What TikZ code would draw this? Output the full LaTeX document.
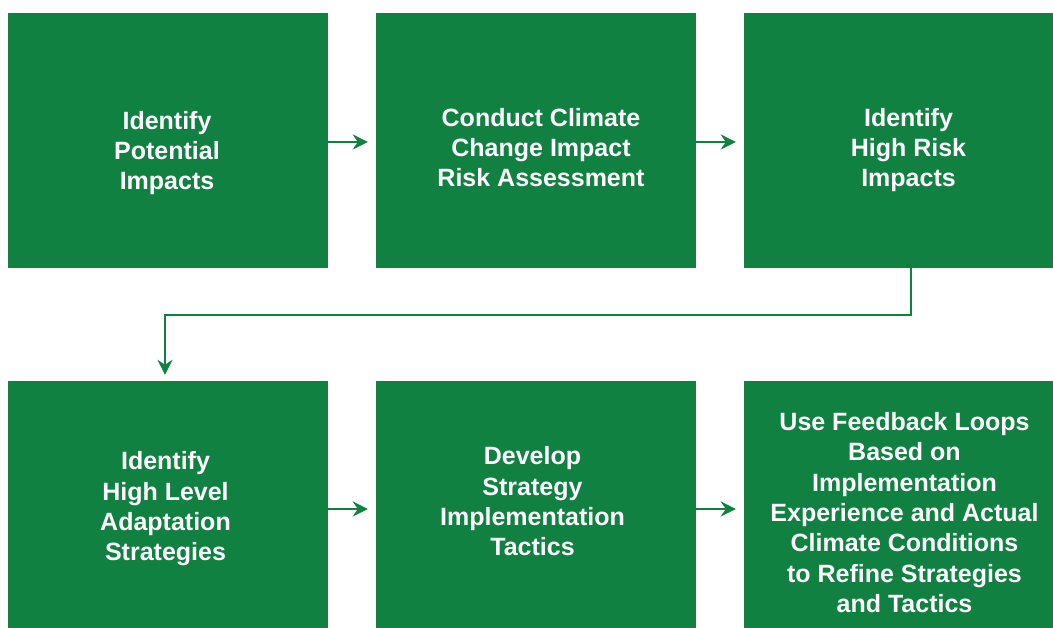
\documentclass[tikz,border=0pt]{standalone}
\usepackage{xcolor}
\usepackage{tikz}
\usepackage{fontspec}
\setmainfont{Liberation Sans}
\usetikzlibrary{arrows.meta,positioning,calc}
\definecolor{leaf}{RGB}{16,129,65}

\begin{document}
\begin{tikzpicture}[
    x=1pt, y=1pt,
    stage/.style={rectangle, fill=leaf, inner sep=0pt,
        minimum width=320pt, minimum height=255pt},
    lowstage/.style={stage, minimum height=247pt},
    edgestage/.style={minimum width=309pt},
    caption/.style={text=white, align=center, inner sep=0pt,
        font=\bfseries\fontsize{25}{30.3}\selectfont},
    flow/.style={draw=leaf, line width=2.5pt, -{Stealth[length=15pt,width=15pt,inset=5pt]}}
]
    \useasboundingbox (0,0) rectangle (1053,628);
    % top row
    \node[stage, label={[caption, xshift=-1pt, yshift=-12.5pt]center:{Identify\\Potential\\Impacts}}] (impacts) at (168,487.5) {};
    \node[stage, label={[caption, xshift=5pt, yshift=-7pt]center:{Conduct Climate\\Change Impact\\Risk Assessment}}] (assess) at (536,487.5) {};
    \node[stage, edgestage, label={[caption, xshift=10pt, yshift=-9.5pt]center:{Identify\\High Risk\\Impacts}}] (highrisk) at (898.5,487.5) {};
    % bottom row
    \node[lowstage, label={[caption, xshift=-2.5pt, yshift=-4.5pt]center:{Identify\\High Level\\Adaptation\\Strategies}}] (adapt) at (168,123.5) {};
    \node[lowstage, label={[caption, xshift=-3.5pt, yshift=3pt]center:{Develop\\Strategy\\Implementation\\Tactics}}] (tactics) at (536,123.5) {};
    \node[lowstage, edgestage, label={[caption, xshift=6pt, yshift=-8pt]center:{Use Feedback Loops\\Based on\\Implementation\\Experience and Actual\\Climate Conditions\\to Refine Strategies\\and Tactics}}] (feedback) at (898.5,123.5) {};

    \draw[flow, shorten >=8pt] (impacts.east |- 0,486) -- (assess.west |- 0,486);
    \draw[flow, shorten >=8pt] (assess.east |- 0,486) -- (highrisk.west |- 0,486);
    \draw[flow, shorten >=8pt] (adapt.east |- 0,119) -- (tactics.west |- 0,119);
    \draw[flow, shorten >=8pt] (tactics.east |- 0,119) -- (feedback.west |- 0,119);

    \coordinate (drop) at ([xshift=12.5pt]highrisk.south);
    \draw[flow, shorten >=6pt] (drop) -- ++(0,-47) -| ([xshift=-3pt]adapt.north);
\end{tikzpicture}
\end{document}
